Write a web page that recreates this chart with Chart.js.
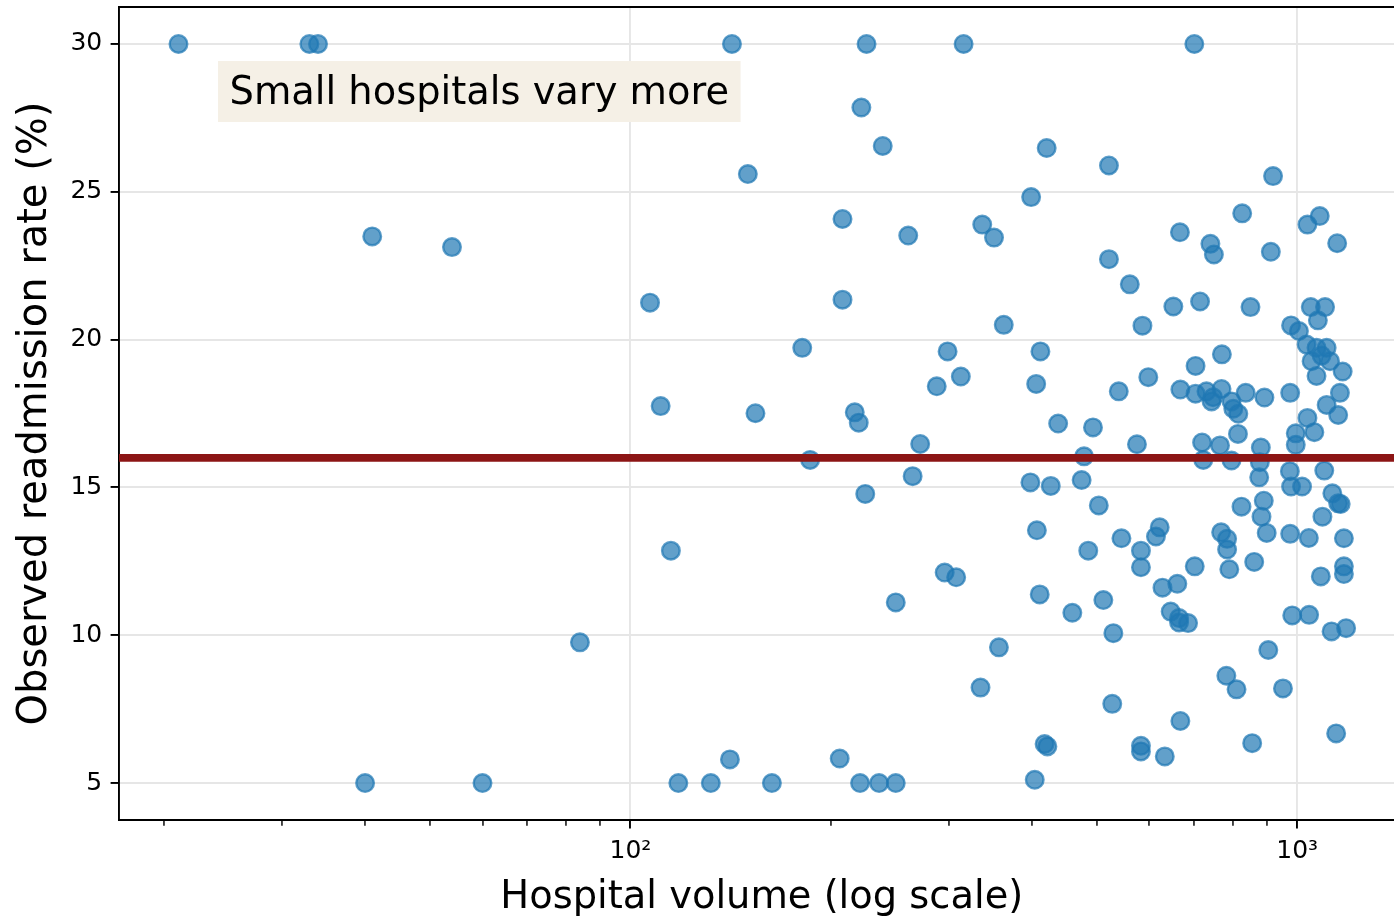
<!DOCTYPE html>
<html>
<head>
<meta charset="utf-8">
<title>Readmission rate vs hospital volume</title>
<script src="https://cdn.jsdelivr.net/npm/chart.js@4.4.1/dist/chart.umd.min.js"></script>
<style>
  html, body { margin: 0; padding: 0; overflow: hidden; background: #ffffff; }
  #wrap { position: relative; width: 1420px; height: 917px; }
  #wrap canvas { display: block; }
</style>
</head>
<body>
<div id="wrap"><canvas id="chart" width="1420" height="917"></canvas></div>
<script>
// Annual case volume per hospital and its observed readmission rate (%).
const volumes = [
  21, 33, 34, 41, 54, 40, 60, 84,
  142, 226, 316, 222, 239, 150, 208, 261, 337, 351,
  107, 208, 363, 181, 299, 313, 288, 111, 154, 217, 220, 272, 186, 265, 225, 115,
  296, 308, 250, 357, 335, 118, 132, 141, 163, 206, 221, 236, 250,
  701, 421, 522, 399, 667, 522,
  561, 652, 715, 586, 412, 406, 704, 598, 540, 668, 704, 438, 494, 575, 479, 398, 427, 475, 504, 407, 545, 622, 614,
  486, 583, 583, 702, 411, 460, 512, 628, 661, 646, 665, 665, 686, 530, 528, 668, 418, 422, 583, 583, 633, 404,
  920, 827, 741, 750, 913, 1036, 1081, 1148,
  851, 1048, 1101, 1074, 979, 1006, 771, 1033, 1069, 1107, 1051, 1088, 1120, 1069, 1170, 1159, 1107, 1152, 976, 731,
  748, 770, 744, 797, 802, 816, 837, 893, 815, 720, 766, 882, 995, 1036, 1061, 995, 723, 797, 879, 877,
  975, 1098, 979, 1017, 1129, 1152, 1162, 891, 825, 884, 1091, 769, 785, 900, 976, 1041, 1175,
  785, 791, 862, 1085, 1175, 1175, 983, 1042, 1126, 1184, 905, 783, 811, 952, 856, 1144
];
const rates = [
  30, 30, 30, 23.49, 23.13, 5, 5, 9.76,
  30, 30, 30, 27.85, 26.55, 25.6, 24.08, 23.52, 23.89, 23.45,
  21.25, 21.35, 20.5, 19.72, 19.6, 18.75, 18.42, 17.75, 17.51, 17.54, 17.19, 16.47, 15.93, 15.38, 14.78, 12.86,
  12.12, 11.96, 11.11, 9.59, 8.23, 5, 5, 5.8, 5, 5.83, 5, 5, 5,
  30, 26.48, 25.89, 24.82, 23.63, 22.72,
  21.87, 21.12, 21.29, 20.47, 19.6, 18.5, 19.11, 18.73, 18.25, 18.31, 18.17, 17.16, 17.03, 16.46, 16.05, 15.17, 15.05, 15.25, 14.39, 13.55, 13.28, 13.65, 13.34,
  12.86, 12.86, 12.3, 12.33, 11.38, 10.76, 11.19, 11.61, 11.74, 10.8, 10.58, 10.43, 10.41, 10.07, 7.68, 7.1, 6.32, 6.24, 6.26, 6.07, 5.9, 5.11,
  25.53, 24.27, 23.24, 22.88, 22.97, 23.89, 24.18, 23.26,
  21.1, 21.1, 21.1, 20.65, 20.48, 20.29, 19.5, 19.83, 19.72, 19.72, 19.27, 19.46, 19.27, 18.77, 18.92, 18.2, 17.79, 17.45, 18.2, 18.25,
  18.05, 18.33, 17.91, 17.91, 17.66, 17.49, 18.2, 18.04, 16.81, 16.52, 16.42, 16.35, 16.83, 17.35, 16.87, 16.44, 15.93, 15.91, 15.85, 15.34,
  15.55, 15.57, 15.03, 15.03, 14.8, 14.46, 14.44, 14.55, 14.35, 14.01, 14.01, 13.48, 13.26, 13.46, 13.43, 13.29, 13.28,
  12.9, 12.23, 12.48, 11.99, 12.33, 12.07, 10.67, 10.69, 10.13, 10.24, 9.5, 8.63, 8.17, 8.2, 6.35, 6.68
];
const averageRate = 16;

// Axis ticks and ranges
const yTicks = [5, 10, 15, 20, 25, 30];
const xMajorTicks = [100, 1000];
const xMinorTicks = [20, 30, 40, 50, 60, 70, 80, 90, 200, 300, 400, 500, 600, 700, 800, 900];
const xRange = [17.1, 1449];
const yRange = [3.75, 31.25];

// Text
const noteText = 'Small hospitals vary more';
const xTitle = 'Hospital volume (log scale)';
const yTitle = 'Observed readmission rate (%)';

// Styling (PT = pixels per typographic point)
const PT = 2.4;
const FONT = "'DejaVu Sans', 'Liberation Sans', sans-serif";
const GRID = '#e6e6e6';
const POINT = 'rgba(31, 119, 180, 0.7)';
const AVG_LINE = '#8c1515';
const NOTE_BG = '#f5f0e6';

// Plot frame in canvas pixels
const AREA = { left: 119, top: 7, right: 1404.6, bottom: 820 };
const CANVAS_W = 1420, CANVAS_H = 917;

Chart.defaults.font.family = FONT;
Chart.defaults.color = '#000';

const points = volumes.map((v, i) => ({ x: v, y: rates[i] }));
const isMajorX = v => xMajorTicks.includes(v);
const superscript = { 2: '\u00b2', 3: '\u00b3' };
const xLabel = v => isMajorX(v) ? '10' + superscript[Math.round(Math.log10(v))] : '';

// Frame (top/right spines) and the annotation box
const framePlugin = {
  id: 'frame',
  afterDraw(chart) {
    const { ctx, chartArea: a } = chart;
    ctx.save();
    ctx.strokeStyle = '#000';
    ctx.lineWidth = 0.8 * PT;
    ctx.beginPath();
    ctx.moveTo(a.left, a.top);
    ctx.lineTo(a.right, a.top);
    ctx.lineTo(a.right, a.bottom);
    ctx.stroke();

    const fs = 38.4;
    ctx.font = fs + 'px ' + FONT;
    const pad = 0.3 * fs;
    const w = ctx.measureText(noteText).width;
    const bx = a.left + 99, by = a.top + 54;
    ctx.fillStyle = NOTE_BG;
    ctx.fillRect(bx, by, w + 2 * pad, 61);
    ctx.fillStyle = '#000';
    ctx.textBaseline = 'alphabetic';
    ctx.textAlign = 'left';
    ctx.fillText(noteText, bx + pad, by + 43);
    ctx.restore();
  }
};

new Chart(document.getElementById('chart'), {
  type: 'scatter',
  data: {
    datasets: [
      {
        type: 'line',
        label: 'Average',
        data: [{ x: xRange[0], y: averageRate }, { x: xRange[1], y: averageRate }],
        borderColor: AVG_LINE,
        borderWidth: 3.3 * PT,
        pointRadius: 0,
        fill: false,
        order: 0
      },
      {
        type: 'scatter',
        label: 'Hospitals',
        data: points,
        backgroundColor: POINT,
        borderColor: POINT,
        borderWidth: 1 * PT,
        pointRadius: 8.8,
        pointHoverRadius: 8.8,
        order: 1
      }
    ]
  },
  options: {
    responsive: false,
    devicePixelRatio: 1,
    animation: false,
    layout: {
      autoPadding: false,
      padding: { left: AREA.left - 119, top: AREA.top, right: CANVAS_W - AREA.right, bottom: 0 }
    },
    plugins: { legend: { display: false }, tooltip: { enabled: false }, title: { display: false } },
    scales: {
      x: {
        type: 'logarithmic',
        position: 'bottom',
        min: xRange[0],
        max: xRange[1],
        afterBuildTicks(s) {
          s.ticks = [...xMinorTicks, ...xMajorTicks].sort((a, b) => a - b)
            .map(v => ({ value: v, major: isMajorX(v) }));
        },
        afterFit(s) { s.height = CANVAS_H - AREA.bottom; s.paddingLeft = 0; s.paddingRight = 0; },
        ticks: { autoSkip: false, maxRotation: 0, font: { size: 25 }, padding: 3.5 * PT, callback: v => xLabel(v) },
        grid: {
          color: c => (c.tick && isMajorX(c.tick.value)) ? GRID : 'rgba(0,0,0,0)',
          lineWidth: 0.8 * PT,
          tickLength: 3.5 * PT,
          tickColor: '#000',
          tickWidth: c => (c.tick && isMajorX(c.tick.value)) ? 0.8 * PT : 0.6 * PT,
          tickBorderDash: c => (c.tick && isMajorX(c.tick.value)) ? [] : [2 * PT, 200]
        },
        border: { display: true, color: '#000', width: 0.8 * PT },
        title: { display: true, text: xTitle, font: { size: 38.4, lineHeight: 1 }, padding: { top: 0, bottom: 0 } }
      },
      y: {
        min: yRange[0],
        max: yRange[1],
        afterBuildTicks(s) { s.ticks = yTicks.map(v => ({ value: v })); },
        afterFit(s) { s.width = AREA.left; s.paddingTop = 0; s.paddingBottom = 0; },
        ticks: { font: { size: 25 }, padding: 3.5 * PT, callback: v => String(v) },
        grid: { color: GRID, lineWidth: 0.8 * PT, tickLength: 3.5 * PT, tickColor: '#000', tickWidth: 0.8 * PT },
        border: { display: true, color: '#000', width: 0.8 * PT },
        title: { display: true, text: yTitle, font: { size: 40, lineHeight: 1 }, padding: { top: 16, bottom: 0 } }
      }
    }
  },
  plugins: [framePlugin]
});
</script>
</body>
</html>
